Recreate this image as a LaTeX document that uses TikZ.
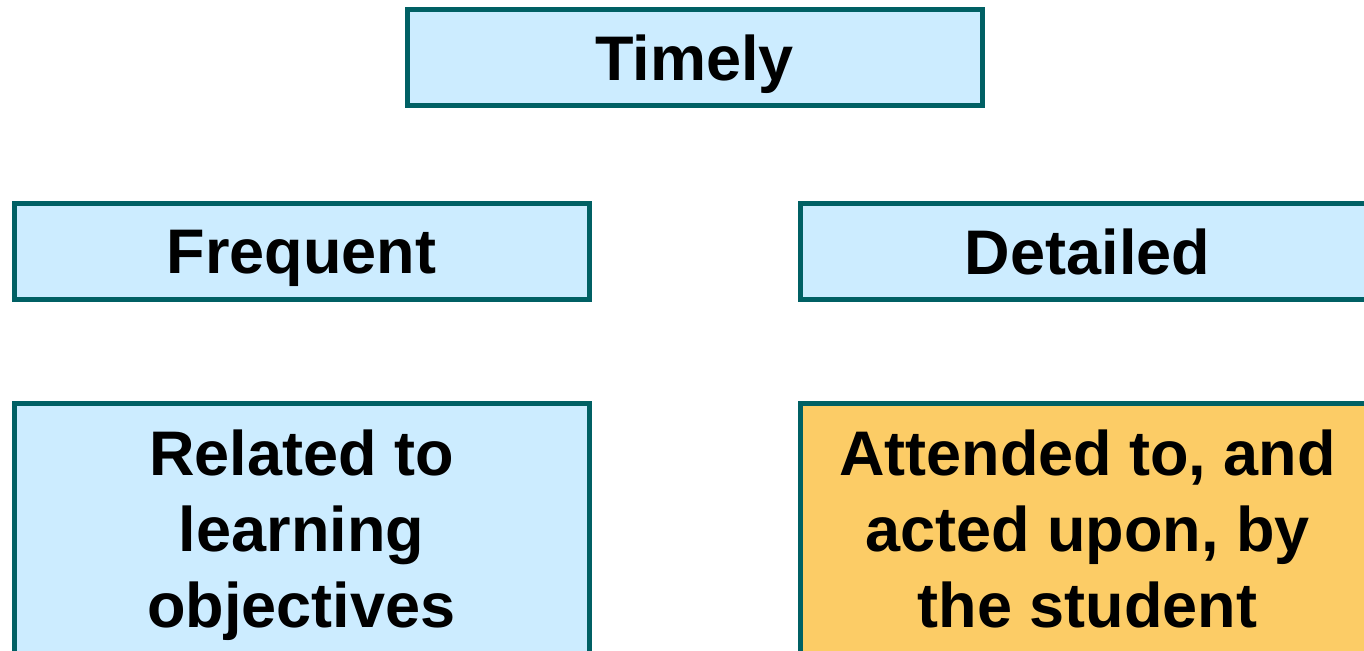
\documentclass[tikz,border=0pt]{standalone}
\usepackage{fontspec}
\setmainfont{Liberation Sans}

\definecolor{boxline}{RGB}{0,96,100}
\definecolor{boxblue}{RGB}{204,236,255}
\definecolor{boxorange}{RGB}{252,204,102}

\tikzset{every picture/.style={line width=2.5pt},
  qbox/.style={draw=boxline, fill=boxblue, minimum width=287.5pt, inner sep=0pt,
    text depth=0pt, align=center, font=\fontsize{31.5}{38}\selectfont\bfseries},
  qshort/.style={qbox, minimum height=48pt},
  qtall/.style={qbox, anchor=north, text depth=5pt, minimum height=130pt}}

\begin{document}
\begin{tikzpicture}[x=0.5pt,y=0.5pt,yscale=-1,xscale=1]
\useasboundingbox (0,0) rectangle (1364,651);
\clip (0,0) rectangle (1364,651);

% Top Node
\node [qshort] (timely) at (694.5,58) {Timely};
% Middle Nodes
\node [qshort] (frequent) at (301.5,252) {Frequent};
\node [qshort] (detailed) at (1087.5,252) {Detailed};
% Bottom Nodes
\node [qtall] (related) at (301.5,401.5) {Related to\\learning\\objectives};
\node [qtall, fill=boxorange] (attended) at (1087.5,401.5) {Attended to, and\\acted upon, by\\the student};

\end{tikzpicture}
\end{document}
